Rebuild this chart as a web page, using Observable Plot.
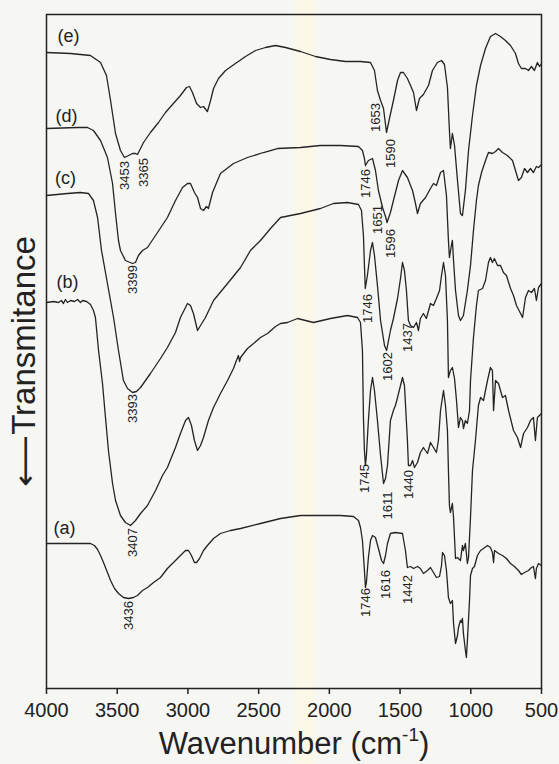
<!DOCTYPE html>
<html><head><meta charset="utf-8">
<script src="https://cdn.jsdelivr.net/npm/d3@7"></script>
<script src="https://cdn.jsdelivr.net/npm/@observablehq/plot@0.6"></script>
<style>
html,body{margin:0;padding:0;}
body{background:linear-gradient(to right,#f6f6f3 0,#f6f6f3 292px,#fbf8e8 298px,#fbf8e8 312px,#f6f6f3 318px,#f6f6f3 100%);}
#chart{width:559px;height:764px;}
</style></head><body><div id="chart"></div>
<script>
// FTIR spectra: [wavenumber (cm-1), transmittance (a.u., offset)]
const specA = [[4000,145],[3852,145],[3689,145],[3661,143],[3639,139],[3618,133],[3597,126],[3569,116],[3547,108],[3519,100],[3491,95],[3456,91],[3420,90],[3385,91],[3357,93],[3321,98],[3286,101],[3243,106],[3194,111],[3145,120],[3102,126],[3053,133],[3017,138],[2996,138],[2975,133],[2954,126],[2939,126],[2918,130],[2890,138],[2862,143],[2819,150],[2770,155],[2699,158],[2628,160],[2487,165],[2345,170],[2204,173],[2063,173],[1921,173],[1830,172],[1794,168],[1780,161],[1766,148],[1752,118],[1745,101],[1738,106],[1724,131],[1709,148],[1695,153],[1674,151],[1653,140],[1631,128],[1617,125],[1603,133],[1589,145],[1568,155],[1533,156],[1483,155],[1462,138],[1448,121],[1426,122],[1405,120],[1377,122],[1356,120],[1335,115],[1306,118],[1285,121],[1264,116],[1243,111],[1221,112],[1207,123],[1200,136],[1186,133],[1172,118],[1165,105],[1158,91],[1144,85],[1130,88],[1122,65],[1108,45],[1094,53],[1087,61],[1073,68],[1066,66],[1059,70],[1052,55],[1038,38],[1031,31],[1024,48],[1009,88],[1002,113],[988,120],[974,122],[953,133],[931,138],[910,140],[882,143],[861,141],[847,136],[839,126],[832,138],[804,135],[776,133],[748,130],[719,125],[691,122],[663,118],[642,114],[620,116],[592,118],[571,121],[557,122],[543,110],[536,120],[521,125],[500,123]];
const specB = [[4000,386],[3950,387],[3915,386],[3895,388],[3880,385],[3866,389],[3852,386],[3830,388],[3802,387],[3780,389],[3760,386],[3745,388],[3717,387],[3689,384],[3668,378],[3654,371],[3632,338],[3604,305],[3583,271],[3562,238],[3533,205],[3512,188],[3477,173],[3442,166],[3406,163],[3371,168],[3335,175],[3286,183],[3229,198],[3180,213],[3145,221],[3088,241],[3053,255],[3017,268],[2996,271],[2975,263],[2954,248],[2932,238],[2911,243],[2890,251],[2855,268],[2819,281],[2770,295],[2720,308],[2678,320],[2657,328],[2643,333],[2635,327],[2628,331],[2579,340],[2536,345],[2487,351],[2437,355],[2381,362],[2345,365],[2296,366],[2225,370],[2112,366],[1992,370],[1872,373],[1801,371],[1780,366],[1766,338],[1759,271],[1752,238],[1745,223],[1738,233],[1724,268],[1709,298],[1695,311],[1681,298],[1660,268],[1638,233],[1617,205],[1603,210],[1589,223],[1568,268],[1547,278],[1533,283],[1518,291],[1497,303],[1483,311],[1469,303],[1462,285],[1448,248],[1441,223],[1426,223],[1412,228],[1398,221],[1377,226],[1356,236],[1335,241],[1306,235],[1285,246],[1264,241],[1243,236],[1229,248],[1214,278],[1193,298],[1179,283],[1165,258],[1158,218],[1151,183],[1144,176],[1130,185],[1122,171],[1108,130],[1094,131],[1073,128],[1059,143],[1052,138],[1038,145],[1024,125],[1016,131],[1002,171],[988,218],[967,248],[946,283],[931,291],[910,288],[882,308],[861,321],[847,318],[839,278],[825,308],[804,305],[776,291],[755,293],[733,278],[698,258],[670,251],[648,241],[627,255],[599,261],[578,268],[557,271],[543,248],[529,271],[500,275]];
const specC = [[4000,493],[3852,495],[3760,496],[3703,495],[3668,488],[3639,471],[3611,438],[3569,405],[3526,371],[3491,338],[3456,308],[3427,300],[3392,296],[3364,297],[3335,301],[3265,315],[3194,330],[3145,341],[3088,356],[3053,371],[3003,385],[2982,383],[2961,375],[2932,358],[2911,363],[2876,371],[2819,388],[2720,405],[2628,421],[2558,438],[2487,448],[2416,460],[2345,471],[2204,475],[2063,480],[1971,485],[1872,486],[1794,484],[1773,478],[1759,453],[1752,423],[1746,400],[1731,413],[1709,438],[1695,446],[1681,433],[1660,403],[1638,368],[1610,343],[1595,338],[1568,358],[1547,370],[1518,390],[1497,410],[1483,426],[1469,418],[1455,398],[1441,368],[1426,363],[1405,361],[1384,366],[1370,358],[1356,370],[1335,375],[1314,370],[1285,385],[1264,383],[1243,390],[1221,398],[1207,413],[1193,426],[1179,413],[1165,368],[1158,311],[1144,318],[1130,321],[1115,310],[1101,288],[1087,261],[1073,271],[1059,268],[1052,260],[1038,268],[1024,265],[1009,278],[1002,308],[981,351],[960,383],[946,398],[917,400],[896,408],[875,426],[861,431],[847,426],[833,430],[811,423],[790,423],[769,416],[748,413],[719,400],[698,393],[677,383],[648,375],[634,371],[613,391],[592,398],[571,396],[550,400],[536,388],[521,401],[500,405]];
const specD = [[4000,560],[3781,561],[3710,561],[3668,558],[3618,548],[3569,531],[3533,505],[3512,475],[3491,448],[3477,438],[3442,428],[3392,425],[3371,426],[3350,433],[3321,438],[3286,441],[3215,456],[3145,471],[3088,488],[3038,501],[3003,505],[2982,505],[2954,496],[2932,491],[2911,480],[2890,478],[2869,482],[2855,480],[2826,496],[2770,515],[2678,525],[2579,531],[2466,536],[2367,540],[2204,541],[2063,543],[1921,543],[1794,542],[1766,538],[1752,530],[1745,523],[1724,528],[1695,530],[1674,518],[1653,498],[1624,481],[1603,472],[1592,466],[1568,476],[1547,488],[1511,508],[1483,518],[1448,511],[1412,498],[1391,485],[1377,475],[1356,485],[1320,491],[1285,500],[1264,505],[1243,503],[1214,516],[1193,518],[1172,493],[1158,448],[1151,431],[1137,443],[1130,448],[1122,428],[1108,398],[1087,373],[1073,368],[1052,373],[1024,398],[1002,423],[981,458],[960,488],[946,503],[924,516],[896,528],[875,536],[847,535],[825,537],[804,540],[776,536],[741,533],[705,528],[684,518],[663,508],[642,511],[620,520],[599,516],[578,520],[557,516],[536,522],[521,521],[500,524]];
const specE = [[4000,636],[3830,635],[3689,633],[3618,626],[3576,613],[3547,588],[3512,555],[3477,538],[3449,531],[3420,533],[3392,535],[3371,535],[3357,534],[3335,540],[3314,546],[3265,556],[3208,566],[3159,576],[3109,584],[3053,593],[3010,601],[2989,602],[2968,596],[2939,585],[2911,581],[2890,582],[2862,577],[2840,588],[2819,600],[2784,610],[2734,618],[2664,625],[2593,632],[2522,638],[2452,641],[2381,643],[2310,641],[2204,637],[2098,632],[1992,629],[1886,627],[1780,627],[1709,626],[1681,618],[1660,598],[1638,588],[1617,580],[1596,556],[1575,570],[1547,588],[1518,608],[1497,616],[1476,616],[1448,610],[1426,603],[1405,596],[1384,578],[1363,590],[1335,594],[1299,603],[1271,618],[1236,626],[1207,628],[1186,624],[1165,601],[1151,558],[1144,540],[1130,555],[1115,543],[1094,508],[1073,475],[1059,473],[1038,498],[1016,538],[988,573],[960,603],[931,623],[896,640],[861,652],[825,655],[790,652],[755,648],[719,643],[684,635],[663,625],[642,620],[613,620],[592,618],[571,622],[550,618],[529,626],[514,622],[500,625]];

const seriesNames = ["(a)", "(b)", "(c)", "(d)", "(e)"];
const nameWn = [3873, 3852, 3866, 3859, 3844];
const nameT = [160, 406, 510, 572, 652];

const peakText = ["3453","3365","1653","1590", "3399","1746","1651","1596", "3393","1746","1602","1437", "3407","1745","1611","1440", "3436","1746","1616","1442"];
const peakWn = [3449,3314,1674,1568, 3392,1745,1660,1568, 3392,1731,1589,1448, 3392,1752,1589,1441, 3420,1745,1603,1448];
const peakT = [513,516,571,535, 409,505,469,445, 280,380,322,351, 146,210,183,204, 73,86,104,99];

const xTicks = [4000, 3500, 3000, 2500, 2000, 1500, 1000, 500];
const xTitle = "Wavenumber (cm-1)";
const yTitle = "\u27F5Transmitance";

const spectra = [specA, specB, specC, specD, specE];
const rows = spectra.flatMap((s, i) => s.map(([wn, t]) => ({series: seriesNames[i], wn, t})));
const peaks = peakText.map((text, i) => ({text, wn: peakWn[i], t: peakT[i]}));
const names = seriesNames.map((text, i) => ({text, wn: nameWn[i], t: nameT[i]}));

const chart = Plot.plot({
  width: 559, height: 764,
  marginLeft: 46, marginRight: 18, marginTop: 14, marginBottom: 76,
  style: {background: "transparent", fontFamily: "'Liberation Sans', Arial, sans-serif", color: "#222", fontSize: "20px"},
  x: {domain: [4000, 500]},
  y: {domain: [0, 674], axis: null},
  marks: [
    Plot.line(rows, {x: "wn", y: "t", z: "series", stroke: "#242424", strokeWidth: 1.3}),
    Plot.text(peaks, {x: "wn", y: "t", text: "text", rotate: -90, fontSize: 13, fill: "#222"}),
    Plot.text(names, {x: "wn", y: "t", text: "text", fontSize: 18, fill: "#222"}),
    Plot.axisX({ticks: xTicks, tickSize: 6, tickPadding: 8, fontSize: 20, tickFormat: d => String(d), label: null, strokeWidth: 1.5}),
    Plot.frame({stroke: "#222", strokeWidth: 1.5}),
    Plot.text([xTitle], {frameAnchor: "bottom", textAnchor: "middle", lineAnchor: "middle", dy: 56, fontSize: 31, fill: "#222"}),
    Plot.text([yTitle], {frameAnchor: "left", textAnchor: "middle", lineAnchor: "middle", rotate: -90, dx: -22, dy: 10, fontSize: 33, fill: "#222"})
  ]
});

const svg = d3.select(chart);
svg.selectAll("text").filter(function() { return this.textContent === xTitle; }).each(function() {
  const t = d3.select(this);
  t.text(null);
  t.append("tspan").text("Wavenumber (cm");
  t.append("tspan").attr("dy", -13).attr("font-size", 19).text("-1");
  t.append("tspan").attr("dy", 13).text(")");
});
svg.selectAll("text").filter(function() { return this.textContent === yTitle; }).each(function() {
  const t = d3.select(this);
  t.text(null);
  t.append("tspan").attr("textLength", 52).attr("lengthAdjust", "spacingAndGlyphs").attr("font-family", "'DejaVu Sans', sans-serif").attr("font-size", 30).text("\u27F5");
  t.append("tspan").text("Transmitance");
});

document.getElementById("chart").append(chart);
</script></body></html>
